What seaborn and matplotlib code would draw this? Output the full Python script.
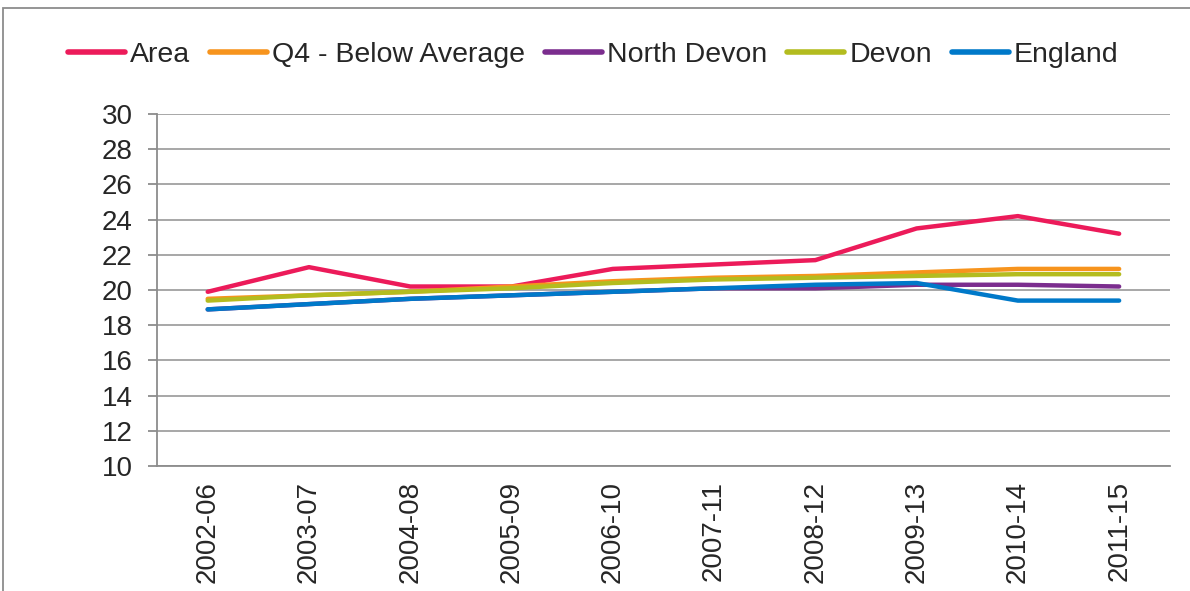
import seaborn as sns
import pandas as pd
import matplotlib.pyplot as plt
import numpy as np
from matplotlib.patches import Rectangle

periods = ['2002-06', '2003-07', '2004-08', '2005-09', '2006-10',
           '2007-11', '2008-12', '2009-13', '2010-14', '2011-15']
area = [19.9, 21.3, 20.2, 20.2, 21.2, 21.45, 21.7, 23.5, 24.2, 23.2]
q4_below = [19.5, 19.7, 19.9, 20.2, 20.5, 20.7, 20.8, 21.0, 21.2, 21.2]
north_devon = [18.9, 19.2, 19.5, 19.7, 19.9, 20.1, 20.1, 20.3, 20.3, 20.2]
devon = [19.4, 19.7, 19.9, 20.1, 20.4, 20.6, 20.7, 20.8, 20.9, 20.9]
england = [18.9, 19.2, 19.5, 19.7, 19.9, 20.1, 20.3, 20.4, 19.4, 19.4]

series = {'Area': area, 'Q4 - Below Average': q4_below,
          'North Devon': north_devon, 'Devon': devon, 'England': england}
colors = ['#EC1B5A', '#F7941D', '#7B2D8E', '#B3BC1F', '#0079C9']

df = pd.DataFrame(series)
df['period'] = periods
long = df.melt(id_vars='period', var_name='series', value_name='value')

sns.set_style('white')
plt.rcParams['font.family'] = ['Liberation Sans', 'DejaVu Sans']

fig = plt.figure(figsize=(11.9, 5.91), dpi=100)
ax = fig.add_axes([0.132, 0.2115, 0.851, 0.5955])

sns.lineplot(data=long, x='period', y='value', hue='series', palette=colors,
             linewidth=3.2, sort=False, ax=ax, legend=True)

ax.set_ylim(10, 30)
ax.set_yticks(np.arange(10, 31, 2))
ax.set_xlim(-0.5, len(periods) - 0.5)
ax.grid(axis='y', color='#A0A0A0', linewidth=1.3)
ax.set_axisbelow(True)
ax.set_xlabel('')
ax.set_ylabel('')

for s in ['top', 'right']:
    ax.spines[s].set_visible(False)
for s in ['left', 'bottom']:
    ax.spines[s].set_color('#8C8C8C')
    ax.spines[s].set_linewidth(1.3)

ax.set_xticks(np.arange(len(periods)))
ax.set_xticklabels(periods, rotation=90, fontsize=20, va='top')
ax.set_xticks(np.arange(-0.5, len(periods)), minor=True)
ax.tick_params(axis='x', which='major', length=0, pad=11)
ax.tick_params(axis='x', which='minor', length=7, color='#8C8C8C', width=1.3, direction='out')
ax.tick_params(axis='y', labelsize=20, length=6.5, pad=11, color='#8C8C8C', width=1.3,
               direction='out', left=True)

handles, labels = ax.get_legend_handles_labels()
leg = fig.legend(handles, labels, loc='center left', bbox_to_anchor=(68 / 1190, 1 - 55 / 591),
                 ncol=5, frameon=False, fontsize=20.5, handlelength=2.0, handletextpad=0.18,
                 columnspacing=0.7, borderpad=0, borderaxespad=0)
ax.get_legend().remove()
for line in leg.get_lines():
    line.set_linewidth(4)

fig.patches.append(Rectangle((3 / 1190, -0.1), 1.2, 1.1 - 8 / 591, transform=fig.transFigure,
                             fill=False, edgecolor='#8C8C8C', linewidth=1.3))

fig.savefig('out.png', dpi=100)
